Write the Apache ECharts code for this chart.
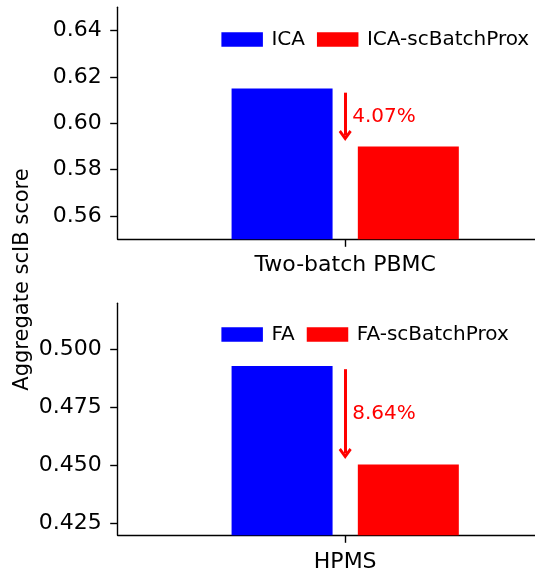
<!DOCTYPE html>
<html>
<head>
<meta charset="utf-8">
<script src="https://cdn.jsdelivr.net/npm/echarts@6/dist/echarts.min.js"></script>
<style>
html,body{margin:0;padding:0;background:#fff;}
#chart{width:535px;height:573px;}
</style>
</head>
<body>
<div id="chart"></div>
<script>
// ---- data ----
const topCategories = ['Two-batch PBMC'];
const topSeriesNames = ['ICA', 'ICA-scBatchProx'];
const topValuesBase = [0.615];
const topValuesProx = [0.590];
const topTicks = [0.56, 0.58, 0.60, 0.62, 0.64];
const topRange = [0.55, 0.65];
const topArrow = [0.6132, 0.5947];   // arrow start, arrow head centre
const topPctLabel = ['4.07%', 0.6028];

const botCategories = ['HPMS'];
const botSeriesNames = ['FA', 'FA-scBatchProx'];
const botValuesBase = [0.493];
const botValuesProx = [0.4505];
const botTicks = [0.425, 0.450, 0.475, 0.500];
const botRange = [0.42, 0.52];
const botArrow = [0.4916, 0.4553];
const botPctLabel = ['8.64%', 0.4724];

const yTitle = 'Aggregate scIB score';

// ---- styles ----
const FONT = 'DejaVu Sans';
const BLUE = '#0000ff', RED = '#ff0000';
const chevron = 'path://M6,0 L12,9 L10,11 L6,5 L2,11 L0,9 Z';

const chart = echarts.init(document.getElementById('chart'), null, {renderer: 'canvas'});

function xAxisCfg(gridIndex, cats, margin) {
  return {
    type: 'category', gridIndex, data: cats,
    axisLine: {show: true, lineStyle: {color: '#000', width: 1.4}},
    axisTick: {show: true, alignWithLabel: true, length: 7.5, lineStyle: {color: '#000', width: 1.4}},
    axisLabel: {color: '#000', fontFamily: FONT, fontSize: 22, margin: margin},
    splitLine: {show: false}
  };
}
function yAxisCfg(gridIndex, range, ticks, digits) {
  return {
    type: 'value', gridIndex, min: range[0], max: range[1],
    axisLine: {show: true, lineStyle: {color: '#000', width: 1.4}},
    axisTick: {show: true, length: 7.5, customValues: ticks, lineStyle: {color: '#000', width: 1.4}},
    axisLabel: {color: '#000', fontFamily: FONT, fontSize: 22, margin: 16,
      customValues: ticks, formatter: v => v.toFixed(digits)},
    splitLine: {show: false}
  };
}
function legendCfg(names, top) {
  return {
    data: names, left: 221.4, top: top, orient: 'horizontal',
    icon: 'rect', itemWidth: 41.5, itemHeight: 14.4, itemGap: 12, padding: 0,
    textStyle: {color: '#000', fontFamily: FONT, fontSize: 20, lineHeight: 24, padding: [0, 0, 0, 3.5]},
    selectedMode: false
  };
}
function barSeries(name, axisIdx, data, color) {
  return {name, type: 'bar', xAxisIndex: axisIdx, yAxisIndex: axisIdx,
    data, barWidth: 101, barGap: '25%', itemStyle: {color}, silent: true};
}
function annotationSeries(axisIdx, cat, arrow, label) {
  return {
    type: 'scatter', xAxisIndex: axisIdx, yAxisIndex: axisIdx, data: [], silent: true, z: 5,
    markLine: {
      silent: true, animation: false,
      symbol: ['none', chevron], symbolSize: [13, 11],
      lineStyle: {color: RED, width: 3, type: 'solid'},
      label: {show: false},
      emphasis: {disabled: true},
      data: [[{coord: [cat, arrow[0]]}, {coord: [cat, arrow[1]]}]]
    },
    markPoint: {
      silent: true, animation: false,
      symbol: 'circle', symbolSize: 0,
      label: {show: true, position: 'right', distance: 7, color: RED,
        fontFamily: FONT, fontSize: 20, formatter: label[0]},
      data: [{coord: [cat, label[1]]}]
    }
  };
}

const option = {
  animation: false,
  backgroundColor: '#fff',
  grid: [
    {left: 117.7, top: 7.3, width: 455, height: 232, containLabel: false, outerBoundsMode: 'none'},
    {left: 117.7, top: 303.3, width: 455, height: 232, containLabel: false, outerBoundsMode: 'none'}
  ],
  xAxis: [xAxisCfg(0, topCategories, 15), xAxisCfg(1, botCategories, 16)],
  yAxis: [yAxisCfg(0, topRange, topTicks, 2), yAxisCfg(1, botRange, botTicks, 3)],
  legend: [legendCfg(topSeriesNames, 27.5), legendCfg(botSeriesNames, 322.5)],
  series: [
    barSeries(topSeriesNames[0], 0, topValuesBase, BLUE),
    barSeries(topSeriesNames[1], 0, topValuesProx, RED),
    annotationSeries(0, topCategories[0], topArrow, topPctLabel),
    barSeries(botSeriesNames[0], 1, botValuesBase, BLUE),
    barSeries(botSeriesNames[1], 1, botValuesProx, RED),
    annotationSeries(1, botCategories[0], botArrow, botPctLabel)
  ],
  graphic: [{
    type: 'text', x: 23, y: 279.5, z: 10,
    rotation: Math.PI / 2,
    style: {text: yTitle, fontFamily: FONT, fontSize: 21, fill: '#000',
      align: 'center', verticalAlign: 'middle'}
  }]
};
chart.setOption(option);
</script>
</body>
</html>
